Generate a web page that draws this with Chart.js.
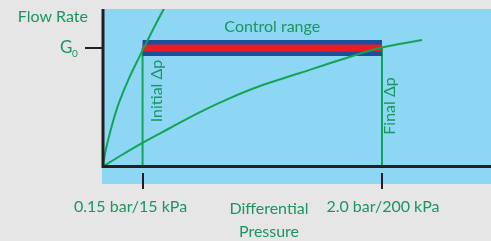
<!DOCTYPE html>
<html>
<head>
<meta charset="utf-8">
<script src="https://cdn.jsdelivr.net/npm/chart.js@4.4.1/dist/chart.umd.min.js"></script>
<style>
  html, body { margin: 0; padding: 0; background: #e6e6e6; }
  canvas { display: block; }
</style>
</head>
<body>
<canvas id="flow" width="491" height="241"></canvas>
<script>
// values (relative units)
const steepX = [0, 0.52, 1.29, 2.58, 3.87, 5.15, 6.44, 9.02, 11.6, 15.46, 18.04];
const steepY = [0, 7.4, 14.9, 25.7, 34.9, 42.3, 49.1, 61.1, 72.6, 89.1, 98.9];
const shallowX = [0, 4.38, 10.05, 17.27, 25.0, 32.73, 40.46, 50.77, 61.08, 71.39, 82.22];
const shallowY = [0, 6.0, 13.4, 22.0, 31.1, 39.1, 46.0, 53.4, 60.9, 67.7, 72.3];
const g0 = 67.7;
const initialDp = 10.2;
const finalDp = 71.9;
const tickValues = [initialDp, finalDp];
const tickLabels = ['0.15 bar/15 kPa', '2.0 bar/200 kPa'];
const xTitle = ['Differential', 'Pressure'];
const yTitle = 'Flow Rate';

const textGreen = '#1b9562';
const lineGreen = '#12a455';
const axisColor = '#231f20';

function pts(xs, ys) {
  return xs.map((x, i) => ({ x: x, y: ys[i] }));
}

const decor = {
  id: 'decor',
  beforeDraw(chart) {
    const ctx = chart.ctx, a = chart.chartArea;
    ctx.save();
    ctx.fillStyle = '#e6e6e6';
    ctx.fillRect(0, 0, chart.width, chart.height);
    ctx.fillStyle = '#8dd7f5';
    ctx.fillRect(a.left - 1, a.top, a.right - a.left + 1, a.bottom - a.top);
    ctx.restore();
  },
  afterDraw(chart) {
    const ctx = chart.ctx, a = chart.chartArea;
    const xs = chart.scales.x, ys = chart.scales.y;
    const x0 = xs.getPixelForValue(0), y0 = ys.getPixelForValue(0);
    const gy = ys.getPixelForValue(g0);
    ctx.save();
    ctx.strokeStyle = axisColor;
    ctx.lineWidth = 3;
    ctx.beginPath();
    ctx.moveTo(x0, a.top);
    ctx.lineTo(x0, y0 + 1.5);
    ctx.moveTo(x0 - 1.5, y0);
    ctx.lineTo(a.right, y0);
    ctx.stroke();

    ctx.lineWidth = 2;
    ctx.beginPath();
    ctx.moveTo(x0 - 18, gy);
    ctx.lineTo(x0 - 1, gy);
    tickValues.forEach(v => {
      const px = Math.round(xs.getPixelForValue(v));
      ctx.moveTo(px, y0 + 6.5);
      ctx.lineTo(px, y0 + 22.5);
    });
    ctx.stroke();

    ctx.fillStyle = textGreen;
    ctx.font = '16px Lato';
    ctx.textBaseline = 'alphabetic';
    ctx.textAlign = 'right';
    ctx.fillText(yTitle, x0 - 15, 22);

    // G0 label
    ctx.textAlign = 'left';
    ctx.font = '17px Lato';
    ctx.fillText('G', x0 - 43, gy + 5);
    ctx.font = '10px Lato';
    ctx.fillText('0', x0 - 31, gy + 9);

    ctx.font = '16px Lato';
    ctx.textAlign = 'center';
    const shift = [-12, 1];
    tickValues.forEach((v, i) => {
      ctx.fillText(tickLabels[i], xs.getPixelForValue(v) + shift[i], 212);
    });
    ctx.fillText(xTitle[0], 269, 214);
    ctx.fillText(xTitle[1], 269, 237);

    const midX = xs.getPixelForValue((initialDp + finalDp) / 2);
    ctx.fillText('Control range', midX + 10, 32);

    ctx.textBaseline = 'middle';
    [[initialDp, 'Initial \u0394p', 91, 14], [finalDp, 'Final \u0394p', 106, 8]].forEach(r => {
      ctx.save();
      ctx.translate(xs.getPixelForValue(r[0]) + r[3], r[2]);
      ctx.rotate(-Math.PI / 2);
      ctx.fillText(r[1], 0, 0);
      ctx.restore();
    });
    ctx.restore();
  }
};

const curve = {
  borderColor: lineGreen,
  borderWidth: 2,
  pointRadius: 0,
  cubicInterpolationMode: 'monotone',
  clip: 0
};

new Chart(document.getElementById('flow'), {
  type: 'line',
  data: {
    datasets: [
      Object.assign({ data: pts(steepX, steepY) }, curve),
      Object.assign({ data: pts(shallowX, shallowY) }, curve),
      { data: [{ x: initialDp, y: g0 }, { x: finalDp, y: g0 }], borderColor: '#ed1c24', borderWidth: 7, borderCapStyle: 'butt', pointRadius: 0 },
      { data: [{ x: initialDp, y: g0 }, { x: finalDp, y: g0 }], borderColor: '#1b4f9c', borderWidth: 16, borderCapStyle: 'butt', pointRadius: 0 },
      { data: [{ x: initialDp, y: 0 }, { x: initialDp, y: g0 }], borderColor: lineGreen, borderWidth: 2, pointRadius: 0 },
      { data: [{ x: finalDp, y: 0 }, { x: finalDp, y: g0 }], borderColor: lineGreen, borderWidth: 2, pointRadius: 0 }
    ]
  },
  options: {
    responsive: false,
    animation: false,
    layout: { padding: { left: 103, top: 9, right: 0, bottom: 57 } },
    plugins: { legend: { display: false }, tooltip: { enabled: false } },
    scales: {
      x: { type: 'linear', min: 0, max: 100, display: false },
      y: { type: 'linear', min: -10, max: 90, display: false }
    }
  },
  plugins: [decor]
});
</script>
</body>
</html>
